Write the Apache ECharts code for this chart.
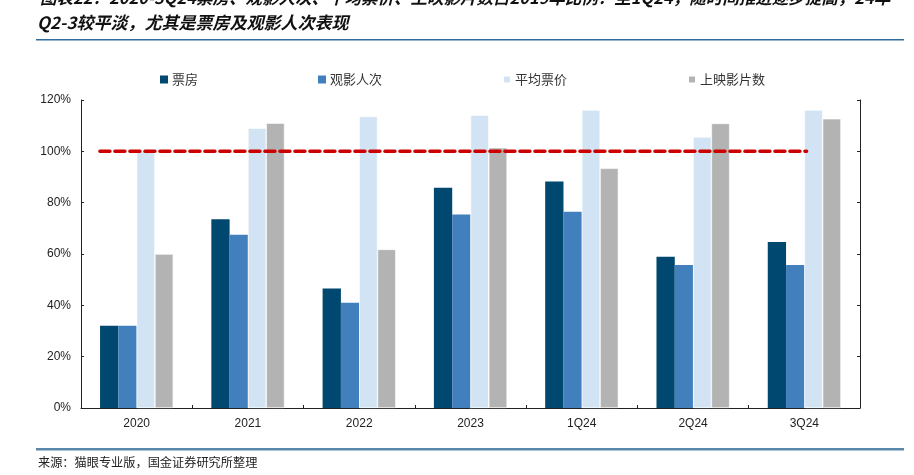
<!DOCTYPE html>
<html>
<head>
<meta charset="utf-8">
<script src="https://cdn.jsdelivr.net/npm/echarts@6/dist/echarts.min.js"></script>
<style>html,body{margin:0;padding:0;background:#fff;}#c{width:914px;height:475px;}</style>
</head>
<body>
<div id="c"></div>
<script>
var categories = ['2020', '2021', '2022', '2023', '1Q24', '2Q24', '3Q24'];
var seriesNames = ['票房', '观影人次', '平均票价', '上映影片数'];
var boxOffice = [32, 73.5, 46.6, 85.8, 88.2, 58.9, 64.7];
var admissions = [32, 67.5, 41, 75.4, 76.5, 55.7, 55.7];
var avgPrice = [100, 109, 113.6, 114.1, 116.1, 105.6, 116.1];
var screenings = [60, 111, 61.8, 101.4, 93.4, 110.9, 112.7];
var refLineX = [0.17, 6.52];
var refLineY = [100, 100];
var yTicks = [0, 20, 40, 60, 80, 100, 120];

var titleLine1 = '图表22：2020-3Q24票房、观影人次、平均票价、上映影片数占2019年比例：至1Q24，随时间推进逐步提高，24年';
var titleLine2 = 'Q2-3较平淡，尤其是票房及观影人次表现';
var sourceText = '来源：猫眼专业版，国金证券研究所整理';

var colors = ['#00486F', '#427FBD', '#D2E3F3', '#B3B3B3'];
var values = [boxOffice, admissions, avgPrice, screenings];

var chart = echarts.init(document.getElementById('c'), null, {renderer: 'canvas'});

var series = values.map(function (v, i) {
  return {
    name: seriesNames[i],
    type: 'bar',
    data: v,
    barWidth: 18.3,
    barGap: '0%',
    itemStyle: {color: colors[i], borderColor: i >= 2 ? '#ffffff' : 'transparent', borderWidth: i >= 2 ? 0.6 : 0},
    xAxisIndex: 0,
    yAxisIndex: 0,
    z: 2
  };
});
series.push({
  name: 'ref',
  type: 'line',
  xAxisIndex: 1,
  yAxisIndex: 0,
  data: refLineX.map(function (x, i) { return [x, refLineY[i]]; }),
  showSymbol: false,
  symbol: 'none',
  lineStyle: {color: '#CC0000', width: 3.5, type: [10, 5], cap: 'round'},
  silent: true,
  z: 5
});

var option = {
  animation: false,
  backgroundColor: '#ffffff',
  grid: {left: 81, right: 54, top: 100, bottom: 67, containLabel: false},
  legend: {
    data: seriesNames,
    left: 160,
    top: 73,
    padding: 0,
    itemWidth: 8,
    itemHeight: 8,
    itemGap: 120,
    icon: 'rect',
    textStyle: {fontFamily: 'Noto Sans CJK SC', fontSize: 13, color: '#333', padding: [0, 0, 0, -1]}
  },
  xAxis: [{
    type: 'category',
    data: categories,
    axisLine: {lineStyle: {color: '#222', width: 1}},
    axisTick: {show: true, inside: true, length: 3, lineStyle: {color: '#222'}},
    axisLabel: {fontFamily: 'Liberation Sans, Arial', fontSize: 12, color: '#222', margin: 10}
  }, {
    type: 'value',
    min: 0,
    max: 7,
    show: false
  }],
  yAxis: [{
    type: 'value',
    min: yTicks[0],
    max: yTicks[yTicks.length - 1],
    interval: 20,
    axisLine: {show: true, lineStyle: {color: '#222', width: 1}},
    axisTick: {show: true, inside: true, length: 3, lineStyle: {color: '#222'}},
    axisLabel: {formatter: '{value}%', fontFamily: 'Liberation Sans, Arial', fontSize: 12, color: '#222', margin: 10},
    splitLine: {show: false}
  }, {
    type: 'value',
    min: yTicks[0],
    max: yTicks[yTicks.length - 1],
    interval: 20,
    position: 'right',
    axisLine: {show: true, lineStyle: {color: '#222', width: 1}},
    axisTick: {show: true, inside: true, length: 3, lineStyle: {color: '#222'}},
    axisLabel: {show: false},
    splitLine: {show: false}
  }],
  series: series,
  graphic: [
    {type: 'text', left: 40, top: -11, style: {text: titleLine1, font: 'italic bold 16.5px "Noto Sans CJK SC"', fill: '#111'}},
    {type: 'text', left: 37, top: 14, style: {text: titleLine2, font: 'italic bold 17px "Noto Sans CJK SC"', fill: '#111'}},
    {type: 'rect', shape: {x: 36, y: 39, width: 868, height: 1.5}, style: {fill: '#2F6C9F'}},
    {type: 'rect', shape: {x: 36, y: 448, width: 868, height: 2.5}, style: {fill: '#5A88AB'}},
    {type: 'text', left: 38, top: 456, style: {text: sourceText, font: '12.2px "Noto Sans CJK SC"', fill: '#222'}}
  ]
};
chart.setOption(option);
</script>
</body>
</html>
